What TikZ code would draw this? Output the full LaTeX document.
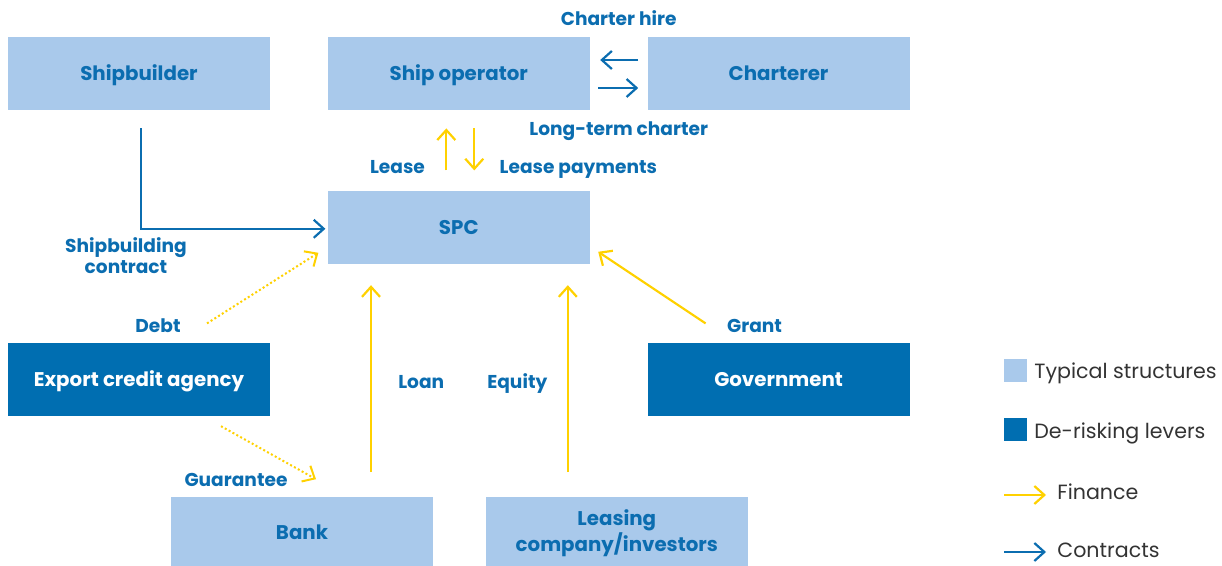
\documentclass[tikz,border=0pt]{standalone}
\usepackage{fontspec}
\setmainfont{Poppins}
\usetikzlibrary{
  arrows.meta,
  calc,
  positioning,
}
\definecolor{lightbox}{HTML}{A9C9EB}
\definecolor{darkbox}{HTML}{006EB1}
\definecolor{labelblue}{HTML}{0B6DB0}
\definecolor{financeyellow}{HTML}{FFD100}
\definecolor{keygray}{HTML}{333333}

\tikzstyle{typical} = [
  rectangle,
  fill=lightbox,
  minimum width=131pt,
  minimum height=36.5pt,
  inner sep=0pt,
  text height=6.9pt,
  text depth=0pt,
  align=center,
  text=labelblue,
  font=\bfseries\fontsize{9.9}{11.5}\selectfont,
]
\tikzstyle{lever} = [typical, fill=darkbox, text=white]
\tikzstyle{lbl} = [
  inner sep=0pt,
  anchor=base,
  align=center,
  text=labelblue,
  font=\bfseries\fontsize{9.3}{10.5}\selectfont,
]
\tikzstyle{keytext} = [
  inner sep=0pt,
  anchor=base west,
  text=keygray,
  font=\fontsize{10.3}{12}\selectfont,
]
\tikzstyle{finance} = [
  -{Straight Barb[length=5pt,width=9pt]},
  line width=1.1pt,
  financeyellow,
]
\tikzstyle{contract} = [finance, labelblue]
\tikzstyle{backing} = [finance, line width=1pt, dash pattern=on 1pt off 1.2pt]

\begin{document}
\begin{tikzpicture}[x=0.5pt, y=-0.5pt, node distance=40pt and 28.5pt]
      \useasboundingbox (0,0) rectangle (1222,566);

      % top row
      \node[typical] (shipbuilder) at (139,73.5) {Shipbuilder};
      \node[typical] (shipop)    [right=of shipbuilder] {Ship operator};
      \node[typical] (charterer) [right=of shipop]      {Charterer};

      \node[typical] (spc) [below=of shipop] {SPC};

      % de-risking levers
      \node[lever] (eca) [below=116pt of shipbuilder] {Export credit agency};
      \node[lever] (gov) [below=116pt of charterer]   {Government};

      % lenders and investors
      \node[typical] (bank)    [below=of eca, xshift=81.5pt] {Bank};
      \node[typical, text height=, text depth=] (leasing) [right=26pt of bank] {Leasing\\company/investors};

      % contracts
      \draw[contract, shorten <=4.5pt, shorten >=5pt] ([yshift=6.75pt]charterer.west) -- ([yshift=6.75pt]shipop.east);
      \draw[contract, shorten <=4pt, shorten >=4.5pt] ([yshift=-7.25pt]shipop.east) -- ([yshift=-7.25pt]charterer.west);
      \draw[contract, shorten <=9pt, shorten >=1pt] ([xshift=1pt]shipbuilder.south) |- ([yshift=-0.75pt]spc.west);

      % finance
      \draw[finance, shorten <=10pt, shorten >=9pt] ([xshift=-6.25pt]spc.north) -- ([xshift=-6.25pt]spc.north |- shipop.south);
      \draw[finance, shorten <=9pt, shorten >=10pt] ([xshift=7.75pt]spc.north |- shipop.south) -- ([xshift=7.75pt]spc.north);
      \draw[finance, shorten <=12pt, shorten >=10.5pt] ([xshift=34.5pt]bank.north) -- ([xshift=34.5pt]bank.north |- spc.south);
      \draw[finance, shorten <=12pt, shorten >=10.5pt] ([xshift=-24.5pt]leasing.north) -- ([xshift=-24.5pt]leasing.north |- spc.south);
      \draw[finance] ([xshift=-36.5pt,yshift=9.5pt]gov.north) -- ([xshift=4pt,yshift=-12.25pt]spc.east);
      \draw[backing] ([xshift=34pt,yshift=9.5pt]eca.north) -- ([xshift=-4.5pt,yshift=-12.75pt]spc.west);
      \draw[backing] ([xshift=41pt,yshift=-5pt]eca.south) -- ([xshift=7pt,yshift=8.5pt]bank.north);

      % labels
      \node[lbl] (hire)  at ([yshift=5.5pt]$(shipop.north east)!0.5!(charterer.north west)$) {Charter hire};
      \node[lbl] (longterm) at ([yshift=-12.5pt]$(shipop.south east)!0.5!(charterer.south west)$) {Long-term charter};
      \node[lbl, anchor=base east] (lease) at ([xshift=-16.75pt,yshift=8.5pt]spc.north) {Lease};
      \node[lbl, anchor=base west] (leasepay) at ([xshift=20.25pt,yshift=8.5pt]spc.north) {Lease payments};
      \node[lbl, anchor=north] (sbcontract) at ([xshift=-6.5pt,yshift=52.5pt]eca.north) {Shipbuilding\\contract};
      \node[lbl] (debt)  at ([xshift=9.5pt,yshift=5pt]eca.north) {Debt};
      \node[lbl] (guar)  at ([xshift=-33pt,yshift=5pt]bank.north) {Guarantee};
      \node[lbl] (loan)  at ([xshift=-18.75pt,yshift=-62pt]spc.south) {Loan};
      \node[lbl] (equity) at ([xshift=29.25pt,yshift=-62pt]spc.south) {Equity};
      \node[lbl] (grant) at ([xshift=-12pt,yshift=5pt]gov.north) {Grant};

      % key
      \node[rectangle, fill=lightbox, minimum size=11.5pt, inner sep=0pt] (keytyp) at (1015.5,370.5) {};
      \node[rectangle, fill=darkbox, minimum size=11.5pt, inner sep=0pt] (keylev) at (1015.5,430) {};
      \node[keytext] (keytyptext) at (1034,379) {Typical structures};
      \node[keytext] (keylevtext) at (1034,439) {De-risking levers};
      \coordinate (finfrom) at (1004,495);
      \coordinate (finto)   at (1046,495);
      \coordinate (confrom) at (1004,552);
      \coordinate (conto)   at (1046,552);
      \draw[finance] (finfrom) -- (finto);
      \draw[contract] (confrom) -- (conto);
      \node[keytext] (keyfin) at (1057,500) {Finance};
      \node[keytext] (keycon) at (1057,558) {Contracts};

    \end{tikzpicture}
\end{document}
